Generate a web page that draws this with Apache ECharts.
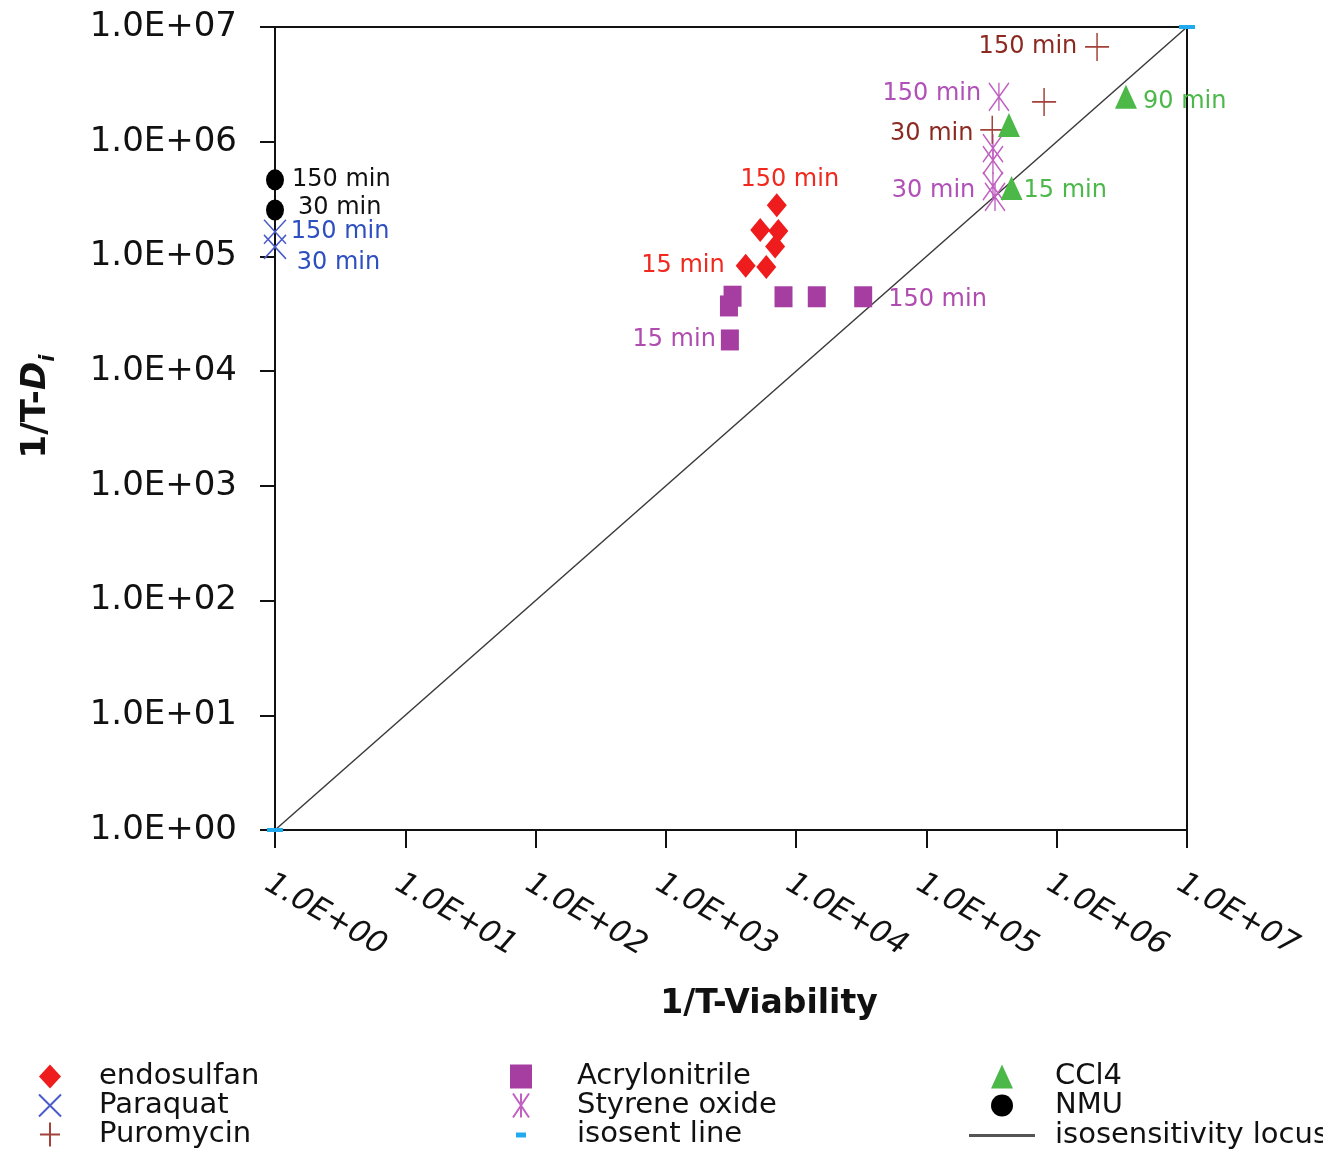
<!DOCTYPE html>
<html><head><meta charset="utf-8">
<script src="https://cdn.jsdelivr.net/npm/echarts@6/dist/echarts.min.js"></script>
<style>html,body{margin:0;padding:0;background:#fff}#c{width:1323px;height:1150px}</style>
</head><body><div id="c"></div>
<script>
// ---------- data ----------
const axisMin = 1, axisMax = 1e7;
const endosulfan = [[7.1e3,2.8e5],[5.3e3,1.7e5],[7.3e3,1.67e5],[6.9e3,1.22e5],[4.1e3,8.3e4],[5.9e3,8.1e4]];
const endosulfanLabels = ['150 min','','','','15 min',''];
const paraquat = [[1,1.64e5],[1,1.21e5]];
const paraquatLabels = ['150 min','30 min'];
const puromycin = [[2.04e6,6.7e6],[8.0e5,2.22e6],[3.2e5,1.27e6]];
const puromycinLabels = ['150 min','','30 min'];
const acrylonitrile = [[3.25e3,4.5e4],[3.05e3,3.7e4],[8.0e3,4.45e4],[1.44e4,4.45e4],[3.27e4,4.45e4],[3.1e3,1.87e4]];
const acrylonitrileLabels = ['','','','','150 min','15 min'];
const styrene = [[3.6e5,2.46e6],[3.24e5,8.8e5],[3.24e5,6.9e5],[3.24e5,4.1e5],[3.36e5,3.3e5]];
const styreneLabels = ['150 min','','','30 min',''];
const ccl4 = [[4.3e5,1.4e6],[4.5e5,3.95e5],[3.4e6,2.46e6]];
const ccl4Labels = ['','15 min','90 min'];
const nmu = [[1,4.65e5],[1,2.54e5]];
const nmuLabels = ['150 min','30 min'];
const isosent = [[1,1],[1e7,1e7]];
const locus = [[1,1],[1e7,1e7]];

// ---------- label layout (style, not data) ----------
const L = (position, distance, offset) => ({position, distance, offset: offset || [0,0]});
const layouts = {
  endosulfan: [L('top',1,[13,0]),null,null,null,L('left',11),null],
  paraquat: [L('right',4),L('right',10,[0,16])],
  puromycin: [L('left',7),null,L('left',6,[0,4])],
  acrylonitrile: [null,null,null,null,L('right',16,[0,3]),L('left',5)],
  styrene: [L('left',7,[0,-3]),null,null,L('left',7,[0,5]),null],
  ccl4: [null,L('right',1,[0,3]),L('right',6,[0,5])],
  nmu: [L('right',8),L('right',14,[0,-2])]
};
const FONT = 'DejaVu Sans';
function build(data, labels, lay, color) {
  return data.map((d, i) => {
    if (!labels[i]) return {value: d};
    return {value: d, label: Object.assign({show: true, formatter: labels[i], color: color,
      fontFamily: FONT, fontSize: 24}, lay[i])};
  });
}
const X_PATH = 'path://M0,0L20,20M20,0L0,20';
const PLUS_PATH = 'path://M10,0L10,24M0,12L20,12';
const AST_PATH = 'path://M0,0L16,24M16,0L0,24M8,0L8,24';

function expLabel(v) {
  const e = Math.round(Math.log10(v));
  return '1.0E+' + (e < 10 ? '0' : '') + e;
}

const chart = echarts.init(document.getElementById('c'), null, {renderer: 'canvas'});
const lt = (pad) => ({fontFamily: FONT, fontSize: 29, color: '#111', lineHeight: 24, padding: [0,0,0,pad]});
const legendBase = {orient: 'vertical', itemWidth: 22, itemHeight: 24, itemGap: 0, top: 1057, height: 120,
  itemStyle: {opacity: 1}};
chart.setOption({
  backgroundColor: '#fff',
  animation: false,
  grid: {left: 275, right: 136, top: 27, bottom: 320, outerBoundsMode: 'none', containLabel: false,
    show: true, borderColor: '#111', borderWidth: 2, backgroundColor: 'transparent'},
  xAxis: {
    type: 'log', logBase: 10, min: axisMin, max: axisMax,
    name: '1/T-Viability', nameLocation: 'middle', nameGap: 158,
    nameTextStyle: {fontFamily: FONT, fontSize: 33, fontWeight: 'bold', color: '#111', padding: [0,0,0,76]},
    axisLine: {onZero: false, lineStyle: {color: '#111', width: 2}},
    axisTick: {inside: false, length: 18, lineStyle: {color: '#111', width: 2}},
    axisLabel: {formatter: expLabel, rotate: -30, margin: 38, align: 'left', verticalAlign: 'top',
      fontFamily: FONT, fontStyle: 'italic', fontSize: 31, color: '#111'},
    splitLine: {show: false}, minorTick: {show: false}
  },
  yAxis: {
    type: 'log', logBase: 10, min: axisMin, max: axisMax,
    name: '{a|1/T-}{d|D}{s|i}', nameLocation: 'middle', nameGap: 216,
    nameTextStyle: {padding: [0,0,0,44], rich: {
      a: {fontFamily: FONT, fontSize: 34, fontWeight: 'bold', color: '#111', lineHeight: 46, verticalAlign: 'middle'},
      d: {fontFamily: FONT, fontSize: 34, fontWeight: 'bold', fontStyle: 'italic', color: '#111', lineHeight: 46, verticalAlign: 'middle'},
      s: {fontFamily: FONT, fontSize: 21, fontWeight: 'bold', fontStyle: 'italic', color: '#111', lineHeight: 46, verticalAlign: 'bottom'}
    }},
    axisLine: {onZero: false, lineStyle: {color: '#111', width: 2}},
    axisTick: {inside: false, length: 15, lineStyle: {color: '#111', width: 2}},
    axisLabel: {formatter: expLabel, margin: 38, fontFamily: FONT, fontSize: 34, color: '#111'},
    splitLine: {show: false}, minorTick: {show: false}
  },
  legend: [
    Object.assign({}, legendBase, {left: 33, textStyle: lt(33),
      data: ['endosulfan', 'Paraquat', 'Puromycin']}),
    Object.assign({}, legendBase, {left: 505, textStyle: lt(40),
      data: ['Acrylonitrile', 'Styrene oxide', {name: 'isosent line', icon: 'path://M0,0M22,24M6,10h10v5h-10z'}]}),
    Object.assign({}, legendBase, {left: 986, textStyle: lt(37),
      data: ['CCl4', 'NMU']}),
    Object.assign({}, legendBase, {left: 964, top: 1116, itemWidth: 66, textStyle: lt(15),
      data: [{name: 'isosensitivity locus', icon: 'path://M0,0M66,24M0,10.5h66v3h-66z'}]})
  ],
  series: [
    {name: 'isosensitivity locus', type: 'line', data: locus, showSymbol: false, symbol: 'none',
     lineStyle: {color: '#3a3a3a', width: 1.5}, itemStyle: {color: '#555'}, z: 1, silent: true},
    {name: 'isosent line', type: 'scatter', data: isosent, symbol: 'rect', symbolSize: [16, 4],
     itemStyle: {color: '#22aaee', opacity: 1}, z: 3},
    {name: 'Acrylonitrile', type: 'scatter', symbol: 'rect', symbolSize: [18, 21],
     itemStyle: {color: '#a63ea2', opacity: 1}, data: build(acrylonitrile, acrylonitrileLabels, layouts.acrylonitrile, '#b04cb0')},
    {name: 'endosulfan', type: 'scatter', symbol: 'diamond', symbolSize: [20, 24],
     itemStyle: {color: '#ee1c1c', opacity: 1}, data: build(endosulfan, endosulfanLabels, layouts.endosulfan, '#f0281e')},
    {name: 'Paraquat', type: 'scatter', symbol: X_PATH, symbolSize: [22, 24],
     itemStyle: {color: '#4a5cc8', borderColor: '#4a5cc8', borderWidth: 1.6, opacity: 1},
     data: build(paraquat, paraquatLabels, layouts.paraquat, '#2e4fc0')},
    {name: 'NMU', type: 'scatter', symbol: 'circle', symbolSize: [18, 21],
     itemStyle: {color: '#000', opacity: 1}, data: build(nmu, nmuLabels, layouts.nmu, '#111')},
    {name: 'Styrene oxide', type: 'scatter', symbol: AST_PATH, symbolSize: [20, 28],
     itemStyle: {color: '#c060c0', borderColor: '#c060c0', borderWidth: 1.6, opacity: 1},
     data: build(styrene, styreneLabels, layouts.styrene, '#b050b8')},
    {name: 'Puromycin', type: 'scatter', symbol: PLUS_PATH, symbolSize: [24, 28],
     itemStyle: {color: '#a3423a', borderColor: '#a3423a', borderWidth: 1.6, opacity: 1},
     data: build(puromycin, puromycinLabels, layouts.puromycin, '#8c2a22')},
    {name: 'CCl4', type: 'scatter', symbol: 'triangle', symbolSize: [22, 24],
     itemStyle: {color: '#4cb848', opacity: 1}, data: build(ccl4, ccl4Labels, layouts.ccl4, '#4cb84a')}
  ]
});
</script>
</body></html>
